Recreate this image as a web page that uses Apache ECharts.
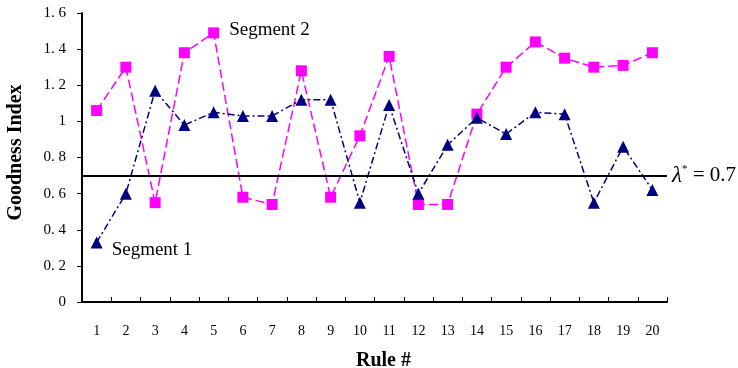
<!DOCTYPE html>
<html>
<head>
<meta charset="utf-8">
<script src="https://cdn.jsdelivr.net/npm/echarts@6/dist/echarts.min.js"></script>
<style>
  html, body { margin: 0; padding: 0; background: #fff; }
  #chart { width: 738px; height: 368px; }
</style>
</head>
<body>
<div id="chart"></div>
<script>
const rules = ['1', '2', '3', '4', '5', '6', '7', '8', '9', '10',
  '11', '12', '13', '14', '15', '16', '17', '18', '19', '20']
const segment1 = [0.33, 0.60, 1.17, 0.98, 1.05, 1.03, 1.03, 1.12, 1.12, 0.55,
  1.09, 0.60, 0.87, 1.02, 0.93, 1.05, 1.04, 0.55, 0.86, 0.62]
const segment2 = [1.06, 1.30, 0.55, 1.38, 1.49, 0.58, 0.54, 1.28, 0.58, 0.92,
  1.36, 0.54, 0.54, 1.04, 1.30, 1.44, 1.35, 1.30, 1.31, 1.38]
const yTickLabels = ['0', '0. 2', '0. 4', '0. 6', '0. 8', '1', '1. 2', '1. 4', '1. 6']
const threshold = 0.7

const serif = '"Liberation Serif", "DejaVu Serif", serif'
const chart = echarts.init(document.getElementById('chart'))

const option = {
  animation: false,
  backgroundColor: '#fff',
  grid: { left: 82, right: 71, top: 13, bottom: 66, outerBoundsMode: 'none', containLabel: false },
  xAxis: {
    type: 'category',
    data: rules,
    boundaryGap: true,
    name: 'Rule #',
    nameLocation: 'middle',
    nameGap: 49,
    nameTextStyle: { fontFamily: serif, fontSize: 20, fontWeight: 'bold', color: '#000', padding: [0, 0, 0, 18] },
    axisLine: { lineStyle: { color: '#000', width: 2 } },
    axisTick: { show: true, inside: true, length: 5, alignWithLabel: false, lineStyle: { color: '#000' } },
    axisLabel: { fontFamily: serif, fontSize: 14, color: '#000', margin: 22 }
  },
  yAxis: {
    type: 'value',
    min: 0,
    max: 1.6,
    interval: 0.2,
    name: 'Goodness Index',
    nameLocation: 'middle',
    nameGap: 56,
    nameTextStyle: { fontFamily: serif, fontSize: 20, fontWeight: 'bold', color: '#000', padding: [0, 0, 0, 10] },
    axisLine: { show: true, lineStyle: { color: '#000', width: 2 } },
    axisTick: { show: true, length: 5, lineStyle: { color: '#000' } },
    splitLine: { show: false },
    axisLabel: {
      fontFamily: serif, fontSize: 15, color: '#000', margin: 16,
      formatter: function (v) { return yTickLabels[Math.round(v / 0.2)] }
    }
  },
  series: [
    {
      name: 'Segment 2',
      type: 'line',
      data: segment2.map(function (v, i) {
        if (i === 4) {
          return {
            value: v,
            label: { show: true, position: 'right', distance: 10, offset: [0, -3],
              formatter: 'Segment 2', fontFamily: serif, fontSize: 19, color: '#000' }
          }
        }
        return v
      }),
      symbol: 'rect',
      symbolSize: 11,
      itemStyle: { color: '#ff00ff' },
      lineStyle: { color: '#ff00ff', width: 1.5, type: [9, 4] },
      z: 3
    },
    {
      name: 'Segment 1',
      type: 'line',
      data: segment1.map(function (v, i) {
        if (i === 0) {
          return {
            value: v,
            label: { show: true, position: 'right', distance: 9, offset: [0, 8],
              formatter: 'Segment 1', fontFamily: serif, fontSize: 19, color: '#000' }
          }
        }
        return v
      }),
      symbol: 'triangle',
      symbolSize: 12,
      itemStyle: { color: '#000080' },
      lineStyle: { color: '#000080', width: 1.5, type: [7, 3, 2, 3] },
      z: 4,
      markLine: {
        silent: true,
        symbol: 'none',
        lineStyle: { color: '#000', width: 2, type: 'solid' },
        label: {
          show: true,
          position: 'end',
          distance: 5,
          formatter: '{l|λ}{s|*}{t| = 0.7}',
          rich: {
            l: { fontFamily: serif, fontSize: 23, fontStyle: 'italic', color: '#000' },
            s: { fontFamily: serif, fontSize: 11, color: '#000', verticalAlign: 'top', padding: [0, 0, 8, 0] },
            t: { fontFamily: serif, fontSize: 21, color: '#000' }
          }
        },
        data: [{ yAxis: threshold }]
      }
    }
  ]
}

chart.setOption(option)
</script>
</body>
</html>
